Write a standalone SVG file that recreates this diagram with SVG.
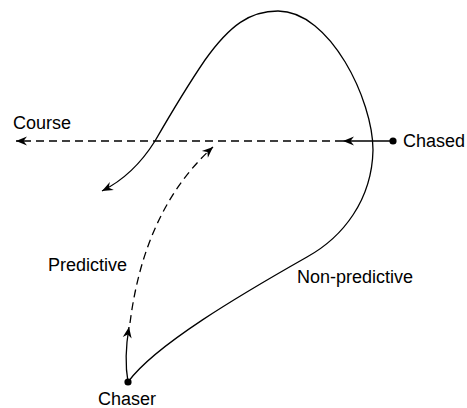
<svg xmlns="http://www.w3.org/2000/svg" width="467" height="408" viewBox="0 0 467 408">
<style>
  .lbl { font-family: "Liberation Sans", Arial, sans-serif; font-size: 18px; fill: #000; }
  .ln { fill: none; stroke: #000; stroke-width: 1.3; }
  .dash { stroke-dasharray: 8 5; }
  .dot { fill: #000; }
</style>
<defs>
  <marker id="arr" markerUnits="userSpaceOnUse" markerWidth="14" markerHeight="12" viewBox="-12 -6 14 12" refX="0" refY="0" orient="auto" overflow="visible">
    <path d="M0,0 L-11,-4.5 L-7.5,0 L-11,4.5 Z" fill="#000"/>
  </marker>
</defs>
<g id="connectors">
  <path id="course-line" class="ln dash" d="M343,141 L16,141" marker-end="url(#arr)"/>
  <path id="chased-move" class="ln" d="M393,141 L343,141" marker-end="url(#arr)"/>
  <path id="non-predictive-path" class="ln" d="M128,382 C155,345 240,295 307,257 C343,237 372,200 373,150 C373,100 330,11 278,11 C250,11 230,25 205,60 C190,82 170,115 155,141 C140,165 120,182 102,191" marker-end="url(#arr)"/>
  <path id="chaser-start" class="ln" d="M128,382 C125,365 126,345 129,327" marker-end="url(#arr)"/>
  <path id="predictive-path" class="ln dash" d="M130,323 C138,260 160,195 213,147" marker-end="url(#arr)"/>
</g>
<g id="chased">
  <circle class="dot" cx="393" cy="141" r="3.6"/>
  <text class="lbl" x="403" y="147">Chased</text>
</g>
<g id="chaser">
  <circle class="dot" cx="128" cy="382" r="3.6"/>
  <text class="lbl" x="98" y="405">Chaser</text>
</g>
<g id="course">
  <text class="lbl" x="13" y="129">Course</text>
</g>
<g id="predictive">
  <text class="lbl" x="48" y="271">Predictive</text>
</g>
<g id="non-predictive">
  <text class="lbl" x="297" y="283">Non-predictive</text>
</g>
</svg>
